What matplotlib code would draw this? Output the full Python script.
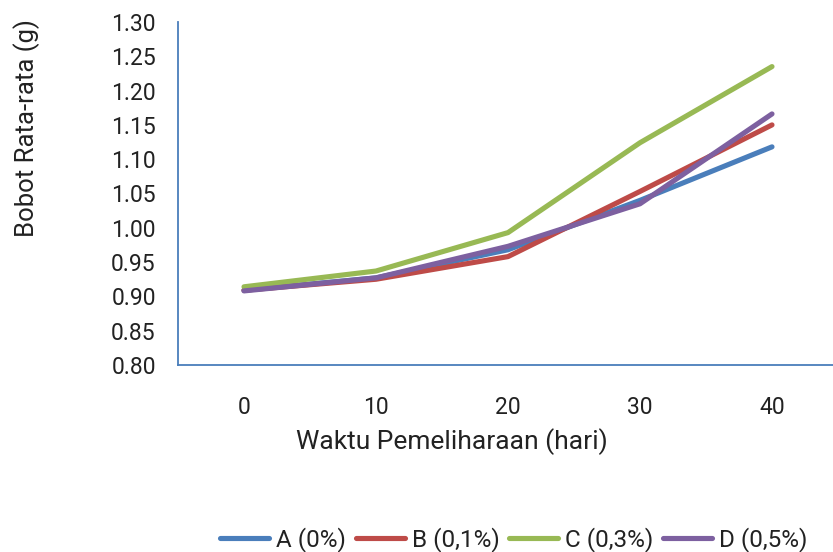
import matplotlib.pyplot as plt

# Waktu pemeliharaan (hari) dan bobot rata-rata (g)
hari = [0, 10, 20, 30, 40]
bobot_a = [0.909, 0.927, 0.968, 1.040, 1.118]
bobot_b = [0.909, 0.925, 0.958, 1.053, 1.150]
bobot_c = [0.914, 0.937, 0.993, 1.124, 1.235]
bobot_d = [0.908, 0.927, 0.973, 1.035, 1.166]

labels = ['A (0%)', 'B (0,1%)', 'C (0,3%)', 'D (0,5%)']
colors = ['#4a7ebb', '#be4b48', '#98b954', '#7d60a0']
y_ticks = [0.80, 0.85, 0.90, 0.95, 1.00, 1.05, 1.10, 1.15, 1.20, 1.25, 1.30]

plt.rcParams['font.family'] = ['Roboto', 'DejaVu Sans']

W, H = 833, 552
fig = plt.figure(figsize=(W / 100, H / 100), dpi=100)
ax = fig.add_axes([178 / W, 1 - 365 / H, 660 / W, 343 / H])

for vals, lab, col in zip([bobot_a, bobot_b, bobot_c, bobot_d], labels, colors):
    ax.plot(hari, vals, color=col, linewidth=3.7, label=lab,
            solid_capstyle='round', solid_joinstyle='round')

ax.set_xlim(-5, 45)
ax.set_ylim(0.80, 1.30)
ax.set_xticks(hari)
ax.set_yticks(y_ticks)
ax.set_yticklabels([f'{v:.2f}' for v in y_ticks])
ax.tick_params(axis='both', length=0, labelsize=16.5, colors='#222222')
ax.tick_params(axis='x', pad=22)
ax.tick_params(axis='y', pad=16)

for side in ['top', 'right']:
    ax.spines[side].set_visible(False)
for side in ['left', 'bottom']:
    ax.spines[side].set_color('#4a7ebb')
    ax.spines[side].set_linewidth(1.3)

fig.text(452 / W, 1 - 442 / H, 'Waktu Pemeliharaan (hari)', ha='center', va='center',
         fontsize=19, color='#222222')
fig.text(27 / W, 1 - 128 / H, 'Bobot Rata-rata (g)', ha='center', va='center',
         rotation=90, fontsize=18.5, color='#222222')

handles, labs = ax.get_legend_handles_labels()
fig.legend(handles, labs, loc='center', bbox_to_anchor=(514 / W, 1 - 540 / H), ncol=4,
           frameon=False, fontsize=17.5, handlelength=2.0, handletextpad=0.3,
           columnspacing=0.4, labelcolor='#222222', borderpad=0)

fig.savefig('out.png', dpi=100)
